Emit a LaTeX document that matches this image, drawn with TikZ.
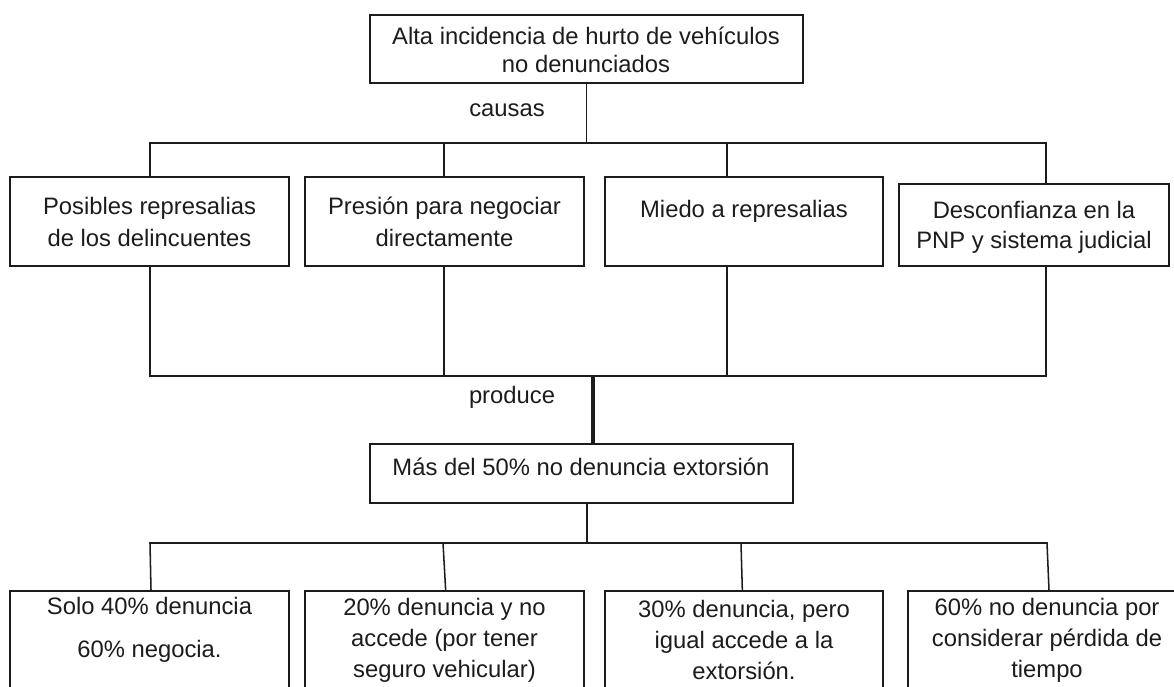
\documentclass[tikz,border=0pt]{standalone}
\usepackage{fontspec}
\setmainfont{Liberation Sans}
\usetikzlibrary{fit,calc}
\definecolor{ink}{RGB}{28,28,28}
\begin{document}
\begin{tikzpicture}[x=0.75pt,y=-0.75pt,
  box/.style={draw=ink, line width=1.15pt, inner sep=0pt},
  txt/.style={inner sep=0pt, align=center, text=ink, font=\fontsize{17.85}{23.25}\selectfont},
  link/.style={draw=ink, line width=1.15pt, line join=miter},
  thicklink/.style={draw=ink, line width=2.3pt}]
\useasboundingbox (0,0) rectangle (1174,686);
\clip (0,0) rectangle (1174,686);

% top problem
\node[box, fit={(370,15)(803,83)}] (top) {};
\node[txt, font=\fontsize{17.85}{21}\selectfont] (ttop) at (586,50)
  {Alta incidencia de hurto de vehículos\\no denunciados};
\node[txt] (causas) at (507,110) {causas};

% causes
\node[box, fit={(10,177)(289,266)}] (c1) {};
\node[box, fit={(305,177)(584,266)}] (c2) {};
\node[box, fit={(605,177)(883,266)}] (c3) {};
\node[box, fit={(899,184)(1169,266)}] (c4) {};
\node[txt, font=\fontsize{17.85}{24}\selectfont] (t1) at (149.5,222) {Posibles represalias\\de los delincuentes};
\node[txt, font=\fontsize{17.85}{24}\selectfont] (t2) at (444.5,222) {Presión para negociar\\directamente};
\node[txt] (t3) at (744,211) {Miedo a represalias};
\node[txt, font=\fontsize{17.85}{22.5}\selectfont] (t4) at (1034,227) {Desconfianza en la\\PNP y sistema judicial};

% effect
\node[txt] (produce) at (512,397) {produce};
\node[box, fit={(370,444)(793,503)}] (e) {};
\node[txt] (te) at (581,467) {Más del 50\% no denuncia extorsión};

% consequences
\node[box, fit={(10,591)(289,720)}] (d1) {};
\node[box, fit={(305,591)(584,720)}] (d2) {};
\node[box, fit={(605,591)(883,720)}] (d3) {};
\node[box, fit={(908,591)(1186,720)}] (d4) {};
\node[txt, font=\fontsize{17.85}{32.25}\selectfont] (td1) at (149.5,630) {Solo 40\% denuncia\\60\% negocia.};
\node[txt] (td2) at (444.5,640) {20\% denuncia y no\\accede (por tener\\seguro vehicular)};
\node[txt] (td3) at (744,640) {30\% denuncia, pero\\igual accede a la\\extorsión.};
\node[txt] (td4) at (1047,640) {60\% no denuncia por\\considerar pérdida de\\tiempo};

% level 1 connectors
\coordinate (h1a) at (150,143);
\coordinate (h1b) at (1046,143);
\coordinate (j2) at (444,143);
\coordinate (j3) at (727,143);
\draw[link] (top.south) -- (top.south |- h1a);
\draw[link] (h1a |- c1.north) -- (h1a) -- (h1b) -- (h1b |- c4.north);
\draw[link] (j2) -- (j2 |- c2.north);
\draw[link] (j3) -- (j3 |- c3.north);

% level 2 connectors
\coordinate (h2a) at (150,376);
\coordinate (h2b) at (1046,376);
\coordinate (k2) at (444,376);
\coordinate (k3) at (727,376);
\coordinate (k5) at (593,376);
\draw[link] (h2a |- c1.south) -- (h2a) -- (h2b) -- (h2b |- c4.south);
\draw[link] (k2 |- c2.south) -- (k2);
\draw[link] (k3 |- c3.south) -- (k3);
\draw[thicklink] (k5) -- (k5 |- e.north);

% level 3 connectors
\coordinate (m0) at (587,543);
\coordinate (h3a) at (150,543);
\coordinate (h3b) at (1047,543);
\coordinate (n2) at (443,543);
\coordinate (n3) at (741,543);
\draw[link] (m0 |- e.south) -- (m0);
\draw[link] ([xshift=0.75pt]h3a |- d1.north) -- (h3a) -- (h3b) -- ([xshift=1.5pt]h3b |- d4.north);
\draw[link] (n2) -- ([xshift=2pt]n2 |- d2.north);
\draw[link] (n3) -- ([xshift=1pt]n3 |- d3.north);
\end{tikzpicture}
\end{document}
